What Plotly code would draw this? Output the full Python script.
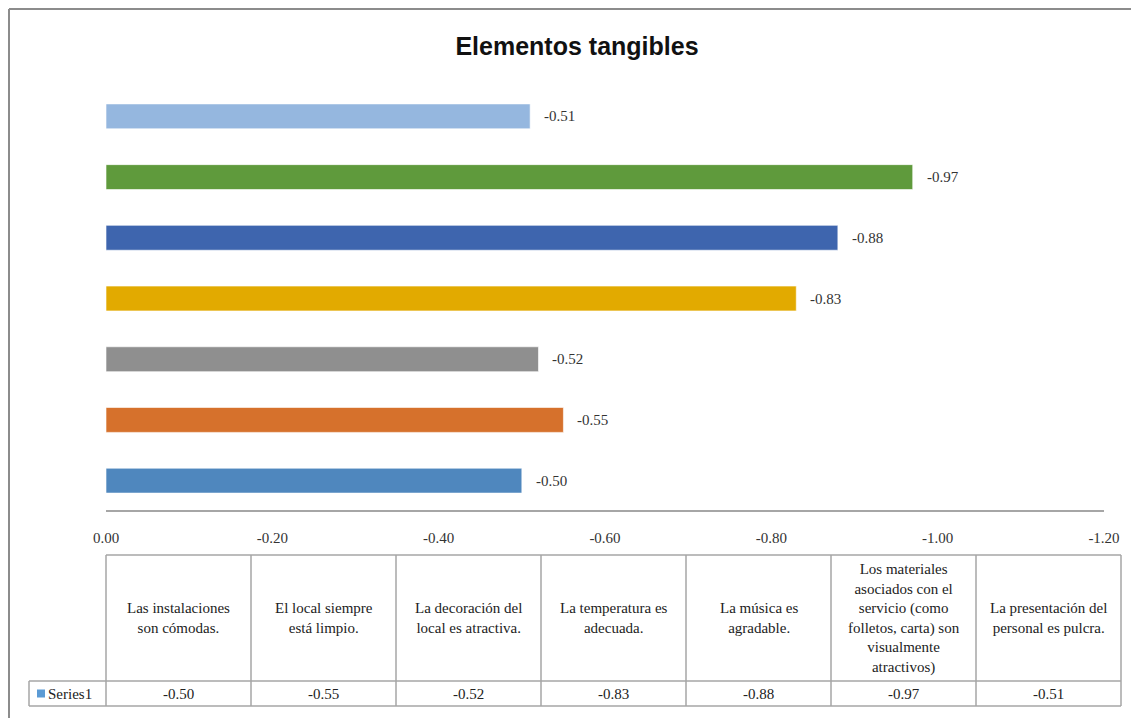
import plotly.graph_objects as go

# Survey items (bottom to top) and their mean scores
items = [
    "Las instalaciones<br>son cómodas.",
    "El local siempre<br>está limpio.",
    "La decoración del<br>local es atractiva.",
    "La temperatura es<br>adecuada.",
    "La música es<br>agradable.",
    "Los materiales<br>asociados con el<br>servicio (como<br>folletos, carta) son<br>visualmente<br>atractivos)",
    "La presentación del<br>personal es pulcra.",
]
values = [-0.50, -0.55, -0.52, -0.83, -0.88, -0.97, -0.51]
bar_colors = ["#4F87BE", "#D6712C", "#8F8F8F", "#E2AA00", "#3E65AE", "#5F9A3C", "#95B7DF"]
tick_vals = [0.0, -0.2, -0.4, -0.6, -0.8, -1.0, -1.2]
tick_text = ["0.00", "-0.20", "-0.40", "-0.60", "-0.80", "-1.00", "-1.20"]
series_name = "Series1"
title_text = "Elementos tangibles"

W, H = 1131, 718
L, R, T, B = 106, 27, 86, 207
PW, PH = W - L - R, H - T - B

def px(xp):
    return (xp - L) / PW

def py(yp):
    return (H - B - yp) / PH

serif = "Liberation Serif, Times New Roman, serif"
ids = list(range(len(items)))

fig = go.Figure()
fig.add_trace(go.Bar(
    x=values, y=ids, orientation="h",
    marker=dict(color=bar_colors, line=dict(color="rgba(255,255,255,0.6)", width=1)),
    width=0.41, showlegend=False, hoverinfo="skip",
))

annotations = []
# value labels next to each bar end
for i, v in enumerate(values):
    annotations.append(dict(x=v, y=i, xref="x", yref="y", text=f"{v:.2f}",
                            showarrow=False, xanchor="left", xshift=12,
                            font=dict(family=serif, size=15, color="#333333")))

shapes = []
line_col = "#A6A6A6"
# data table under the axis
tbl_left, tbl_right = 106, 1121
tbl_top, row_sep, tbl_bot = 555, 681, 706
col_w = (tbl_right - tbl_left) / len(items)
for k in range(len(items) + 1):
    xk = tbl_left + k * col_w
    shapes.append(dict(type="line", xref="paper", yref="paper",
                       x0=px(xk), x1=px(xk), y0=py(tbl_top), y1=py(tbl_bot),
                       line=dict(color=line_col, width=1.5)))
for yk in (tbl_top, row_sep, tbl_bot):
    shapes.append(dict(type="line", xref="paper", yref="paper",
                       x0=px(tbl_left), x1=px(tbl_right), y0=py(yk), y1=py(yk),
                       line=dict(color=line_col, width=1.5)))
# legend key cell
leg_left = 29
for yk in (row_sep, tbl_bot):
    shapes.append(dict(type="line", xref="paper", yref="paper",
                       x0=px(leg_left), x1=px(tbl_left), y0=py(yk), y1=py(yk),
                       line=dict(color=line_col, width=1.5)))
shapes.append(dict(type="line", xref="paper", yref="paper",
                   x0=px(leg_left), x1=px(leg_left), y0=py(row_sep), y1=py(tbl_bot),
                   line=dict(color=line_col, width=1.5)))
shapes.append(dict(type="rect", xref="paper", yref="paper",
                   x0=px(37), x1=px(45), y0=py(689.5), y1=py(697.5),
                   fillcolor="#5B9BD5", line=dict(width=0)))
annotations.append(dict(x=px(46), y=py(694), xref="paper", yref="paper",
                        text=series_name, showarrow=False, xanchor="left", yanchor="middle",
                        font=dict(family=serif, size=15, color="#222222")))

for k, (lab, v) in enumerate(zip(items, values)):
    cx = tbl_left + (k + 0.5) * col_w
    annotations.append(dict(x=px(cx), y=py((tbl_top + row_sep) / 2), xref="paper", yref="paper",
                            text=lab, showarrow=False, xanchor="center", yanchor="middle",
                            align="center",
                            font=dict(family=serif, size=15, color="#222222")))
    annotations.append(dict(x=px(cx), y=py((row_sep + tbl_bot) / 2), xref="paper", yref="paper",
                            text=f"{v:.2f}", showarrow=False, xanchor="center", yanchor="middle",
                            font=dict(family=serif, size=15, color="#222222")))

# chart frame
frame_col = "#8C8C8C"
shapes.append(dict(type="line", xref="paper", yref="paper",
                   x0=px(9), x1=px(W + 5), y0=py(9), y1=py(9),
                   line=dict(color=frame_col, width=2)))
shapes.append(dict(type="line", xref="paper", yref="paper",
                   x0=px(9), x1=px(9), y0=py(9), y1=py(H + 5),
                   line=dict(color=frame_col, width=2)))

fig.update_layout(
    width=W, height=H,
    margin=dict(l=L, r=R, t=T, b=B),
    paper_bgcolor="white", plot_bgcolor="white",
    title=dict(text=f"<b>{title_text}</b>", xref="container", yref="container",
               x=577 / W, y=1 - 46 / H, xanchor="center", yanchor="middle",
               font=dict(family="Liberation Sans, Arial, sans-serif", size=25, color="#111111")),
    xaxis=dict(range=[0, -1.2], tickvals=tick_vals, ticktext=tick_text,
               showgrid=False, zeroline=False, showline=False,
               ticks="", ticklabelstandoff=16,
               tickfont=dict(family=serif, size=15, color="#333333")),
    yaxis=dict(range=[-0.5, len(items) - 0.5], showticklabels=False,
               showgrid=False, zeroline=False, showline=False, ticks=""),
    shapes=shapes + [dict(type="line", xref="paper", yref="paper",
                          x0=0, x1=1, y0=0, y1=0,
                          line=dict(color="#A6A6A6", width=2))],
    annotations=annotations,
)

fig.write_html("out.html")
